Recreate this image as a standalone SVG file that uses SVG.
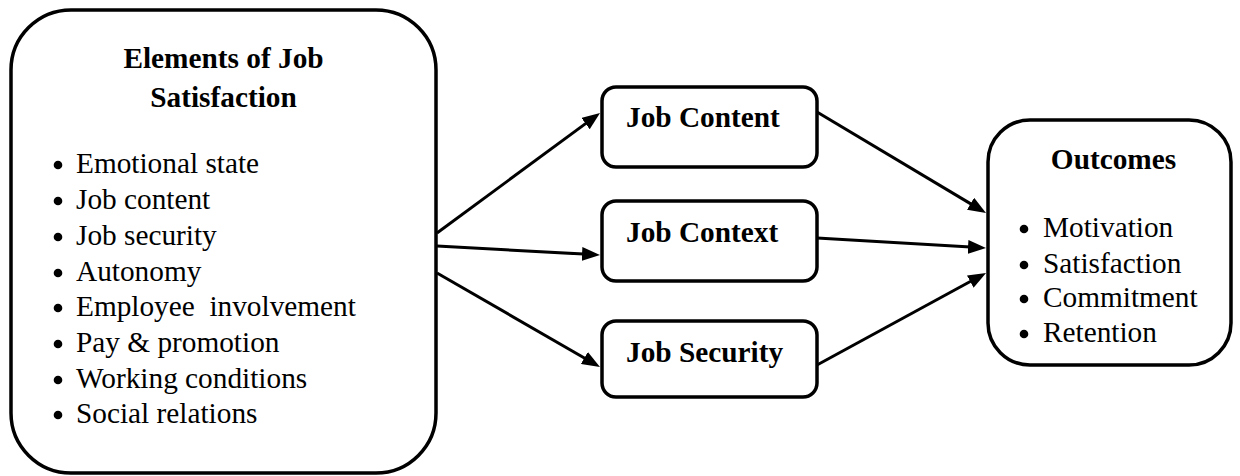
<svg xmlns="http://www.w3.org/2000/svg" width="1240" height="476" viewBox="0 0 1240 476">
  <style>
    .box { fill: #ffffff; stroke: #000000; stroke-width: 3.5; }
    text { font-family: 'Liberation Serif', 'DejaVu Serif', serif; fill: #000000; }
    .title { font-weight: bold; font-size: 29.3px; }
    .item { font-size: 29.3px; white-space: pre; }
    .dot { fill: #000000; }
    .link { stroke: #000000; stroke-width: 3; fill: none; marker-end: url(#head); }
  </style>
  <defs>
    <marker id="head" viewBox="0 0 18 14" refX="11" refY="7" markerWidth="18" markerHeight="14" markerUnits="userSpaceOnUse" orient="auto">
      <path d="M0,0 L18,7 L0,14 z" fill="#000000"/>
    </marker>
  </defs>

  <rect width="1240" height="476" fill="#ffffff"/>

  <!-- Left: elements list -->
  <g id="elements">
    <rect class="box" x="11" y="10" width="425" height="463" rx="60" ry="60"/>
    <text class="title" x="223.5" y="68" text-anchor="middle">Elements of Job</text>
    <text class="title" x="223.5" y="107" text-anchor="middle">Satisfaction</text>
    <circle class="dot" cx="58" cy="165" r="4.3"/>
    <text class="item" x="76" y="173">Emotional state</text>
    <circle class="dot" cx="58" cy="201" r="4.3"/>
    <text class="item" x="76" y="209">Job content</text>
    <circle class="dot" cx="58" cy="237" r="4.3"/>
    <text class="item" x="76" y="245">Job security</text>
    <circle class="dot" cx="58" cy="273" r="4.3"/>
    <text class="item" x="76" y="281">Autonomy</text>
    <circle class="dot" cx="58" cy="308" r="4.3"/>
    <text class="item" x="76" y="316">Employee  involvement</text>
    <circle class="dot" cx="58" cy="344" r="4.3"/>
    <text class="item" x="76" y="352">Pay &amp; promotion</text>
    <circle class="dot" cx="58" cy="380" r="4.3"/>
    <text class="item" x="76" y="388">Working conditions</text>
    <circle class="dot" cx="58" cy="415" r="4.3"/>
    <text class="item" x="76" y="423">Social relations</text>
  </g>

  <!-- Middle: three factor boxes -->
  <g id="job-content">
    <rect class="box" x="602" y="87" width="215" height="80" rx="14" ry="14"/>
    <text class="title" x="626" y="127">Job Content</text>
  </g>
  <g id="job-context">
    <rect class="box" x="602" y="201" width="215" height="80" rx="14" ry="14"/>
    <text class="title" x="626" y="242">Job Context</text>
  </g>
  <g id="job-security">
    <rect class="box" x="602" y="321" width="215" height="76" rx="14" ry="14"/>
    <text class="title" x="626" y="362">Job Security</text>
  </g>

  <!-- Right: outcomes -->
  <g id="outcomes">
    <rect class="box" x="988" y="120" width="243" height="245" rx="42" ry="42"/>
    <text class="title" x="1113.5" y="169" text-anchor="middle">Outcomes</text>
    <circle class="dot" cx="1024" cy="229" r="4.3"/>
    <text class="item" x="1043" y="237">Motivation</text>
    <circle class="dot" cx="1024" cy="265" r="4.3"/>
    <text class="item" x="1043" y="273">Satisfaction</text>
    <circle class="dot" cx="1024" cy="299" r="4.3"/>
    <text class="item" x="1043" y="307">Commitment</text>
    <circle class="dot" cx="1024" cy="334" r="4.3"/>
    <text class="item" x="1043" y="342">Retention</text>
  </g>

  <!-- Connectors -->
  <g id="connectors">
    <line class="link" x1="437" y1="233" x2="594.4" y2="117.1"/>
    <line class="link" x1="437" y1="246" x2="593.0" y2="254.6"/>
    <line class="link" x1="437" y1="273" x2="593.9" y2="363.5"/>
    <line class="link" x1="817" y1="112" x2="980.0" y2="209.4"/>
    <line class="link" x1="817" y1="238" x2="979.0" y2="247.6"/>
    <line class="link" x1="817" y1="365" x2="979.9" y2="276.3"/>
  </g>
</svg>
